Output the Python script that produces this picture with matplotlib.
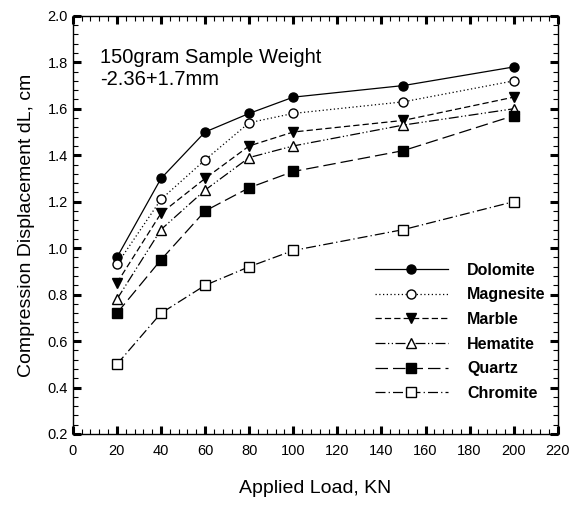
import matplotlib
matplotlib.use('Agg')
import matplotlib.pyplot as plt
from matplotlib.ticker import MultipleLocator

plt.rcParams['font.family'] = ['Liberation Sans', 'DejaVu Sans']

# Data
load = [20, 40, 60, 80, 100, 150, 200]
dolomite = [0.96, 1.30, 1.50, 1.58, 1.65, 1.70, 1.78]
magnesite = [0.93, 1.21, 1.38, 1.54, 1.58, 1.63, 1.72]
marble = [0.85, 1.15, 1.30, 1.44, 1.50, 1.55, 1.65]
hematite = [0.78, 1.08, 1.25, 1.39, 1.44, 1.53, 1.60]
quartz = [0.72, 0.95, 1.16, 1.26, 1.33, 1.42, 1.57]
chromite = [0.50, 0.72, 0.84, 0.92, 0.99, 1.08, 1.20]

fig = plt.figure(figsize=(5.78, 5.05), dpi=100)
ax = fig.add_axes([0.126, 0.1406, 0.839, 0.828])

ms = 6.5
ax.plot(load, dolomite, '-', color='k', lw=0.9, marker='o', ms=ms, mfc='k', label='Dolomite')
ax.plot(load, magnesite, color='k', lw=0.9, ls=(0, (1, 2)), marker='o', ms=ms, mfc='white', label='Magnesite')
ax.plot(load, marble, color='k', lw=0.9, ls=(0, (5, 2.5)), marker='v', ms=ms + 0.5, mfc='k', label='Marble')
ax.plot(load, hematite, color='k', lw=0.9, ls=(0, (8, 2, 1, 2, 1, 2)), marker='^', ms=ms + 0.5, mfc='white', label='Hematite')
ax.plot(load, quartz, color='k', lw=0.9, ls=(0, (10, 4)), marker='s', ms=ms, mfc='k', label='Quartz')
ax.plot(load, chromite, color='k', lw=0.9, ls=(0, (8, 2.5, 1, 2.5)), marker='s', ms=ms + 0.5, mfc='white', label='Chromite')

ax.set_xlim(0, 220)
ax.set_ylim(0.2, 2.0)
ax.xaxis.set_major_locator(MultipleLocator(20))
ax.xaxis.set_minor_locator(MultipleLocator(4))
ax.yaxis.set_major_locator(MultipleLocator(0.2))
ax.yaxis.set_minor_locator(MultipleLocator(0.04))
ax.yaxis.set_major_formatter(matplotlib.ticker.FormatStrFormatter('%.1f'))
ax.tick_params(which='both', direction='in', top=True, right=True, labelsize=10.5)
ax.tick_params(which='major', length=6, width=2.2)
ax.tick_params(which='minor', length=3.5, width=0.8)
ax.tick_params(axis='x', pad=7)
for sp in ax.spines.values():
    sp.set_linewidth(1.0)

ax.set_xlabel('Applied Load, KN', fontsize=14, labelpad=16)
ax.set_ylabel('Compression Displacement dL, cm', fontsize=14, labelpad=9)

ax.text(12.5, 1.86, '150gram Sample Weight\n-2.36+1.7mm', fontsize=14.5, va='top', linespacing=1.2)

leg = ax.legend(loc='lower right', bbox_to_anchor=(1.005, 0.045), frameon=False,
                prop={'weight': 'bold', 'size': 11.5}, handlelength=4.6,
                labelspacing=0.6, handletextpad=1.2)

fig.savefig('out.png', dpi=100)
